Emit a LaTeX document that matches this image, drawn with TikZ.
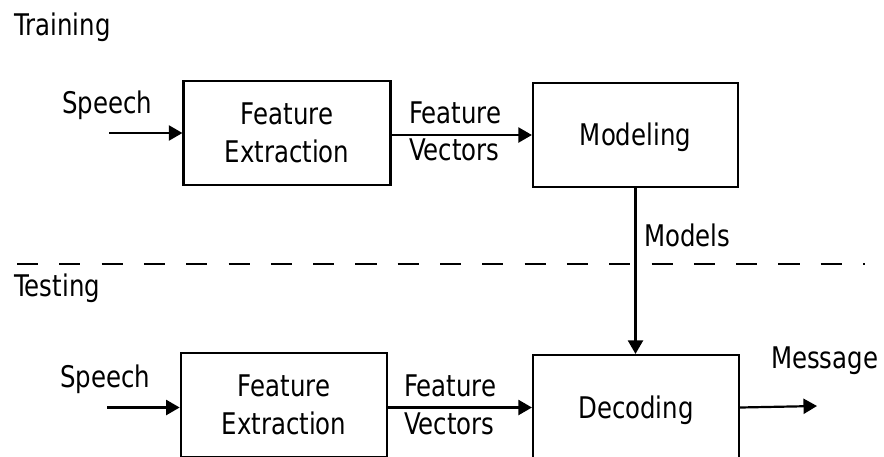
\documentclass[tikz,border=0pt]{standalone}
\usepackage{fontspec}
\setmainfont{DejaVu Sans}
\newfontfamily\narrowfont{DejaVu Sans}[FakeStretch=0.82]
\newcommand\blockfont{\narrowfont\fontsize{29.8}{37.5}\selectfont}
\usetikzlibrary{arrows.meta,positioning,calc}

\begin{document}
\begin{tikzpicture}[x=1pt, y=-1pt, line width=2.2pt,
  blk/.style={draw, inner sep=0pt, font=\blockfont, align=center},
  lbl/.style={inner sep=0pt, font=\blockfont},
  flow/.style={-{Triangle[length=13.5pt,width=15pt]}}]

\useasboundingbox (0,0) rectangle (884,456);

% Training stage
\node[blk, minimum width=207pt, minimum height=104pt] (fe1) at (287,133) {Feature\\Extraction};
\node[blk, minimum width=205pt, minimum height=104pt, text height=21.7pt, text depth=0pt] (model) at (635.5,135) {Modeling};

% Testing stage
\node[blk, minimum width=206.5pt, minimum height=104pt] (fe2) at (284,405) {Feature\\Extraction};
\node[blk, minimum width=206pt, minimum height=105pt, text height=21.7pt, text depth=0pt] (dec) at (636,407.5) {Decoding};

% Free ends
\coordinate (sp1) at (109,133);
\coordinate (sp2) at (107,407.5);
\coordinate (msg) at (817,406);
\coordinate (sepL) at (17,264);
\coordinate (sepR) at (864.5,264);

% Connectors
\draw[flow] (sp1) -- (sp1 -| fe1.west);
\draw[flow] (fe1.east |- model.west) -- (model.west);
\draw[flow] (model.south) -- (model.south |- dec.north);
\draw[flow] (sp2) -- (sp2 -| fe2.west);
\draw[flow] (fe2.east |- dec.west) -- (dec.west);
\draw[flow] (dec.east) -- (msg);

% Stage separator
\draw[dash pattern=on 21.15pt off 21.15pt] (sepL) -- (sepR);

% Labels
\node[lbl, anchor=base west] (train) at (13,35.7) {Training};
\node[lbl, anchor=base west] (test) at (13,296.7) {Testing};
\node[lbl, anchor=base west] (sp1lbl) at (61,113) {Speech};
\node[lbl, anchor=west, align=left] (fv1lbl) at (408,131.5) {Feature\\Vectors};
\node[lbl, anchor=base west] (mdl) at (643,246.5) {Models};
\node[lbl, anchor=base west] (sp2lbl) at (59,387) {Speech};
\node[lbl, anchor=west, align=left] (fv2lbl) at (403,405) {Feature\\Vectors};
\node[lbl, anchor=base west] (msglbl) at (770,368.5) {Message};

\end{tikzpicture}
\end{document}
